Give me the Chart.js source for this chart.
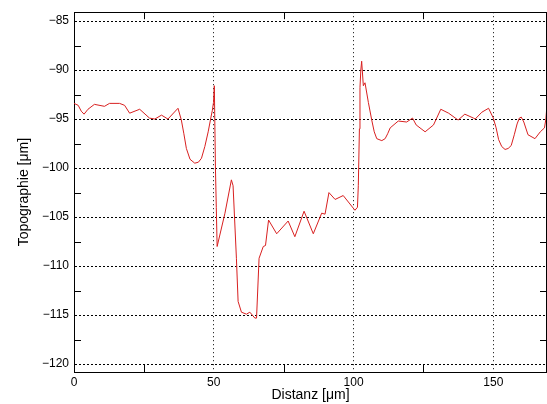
<!DOCTYPE html>
<html>
<head>
<meta charset="utf-8">
<script src="https://cdn.jsdelivr.net/npm/chart.js@4/dist/chart.umd.min.js"></script>
<style>
  html, body { margin: 0; padding: 0; background: #ffffff; }
  canvas { display: block; }
</style>
</head>
<body>
<canvas id="c" width="547" height="404"></canvas>
<script>
// Distance along the profile [µm]
const distanz = [0, 1.5, 2.6, 3.6, 5, 7.3, 10.9, 12.7, 16.3, 18.1, 19.9, 23.5, 27, 28.9, 31.3, 33.6, 37.2, 38.4, 39.3, 40.2,
  41.5, 43.2, 44.5, 45.6, 46.8, 48, 49, 49.5, 49.9, 50.2, 50.6, 50.9, 51.2, 54, 56.3, 56.9, 58.1, 58.7, 59.9, 61.7,
  62.9, 64.7, 65.3, 66.2, 67.7, 68.5, 69.6, 72.5, 76.6, 79, 82.3, 85.6, 88.6, 89.8, 91.2, 93.4, 96.3, 100.5, 101.4, 101.7,
  102.1, 102.3, 102.6, 102.9, 103.5, 104.1, 105.3, 106.5, 107.4, 108.3, 110.1, 111.3, 112.2, 113.1, 116, 119, 121.1, 122.4, 125.6, 128.6,
  131.2, 134, 137.4, 139.8, 142.9, 143.5, 145.9, 148.3, 150, 151, 151.9, 153, 154.2, 155.3, 156.4, 157.5, 158.5, 159.3, 160, 160.9,
  162.4, 164.9, 166.8, 168.3, 168.8, 169.2];
// Topography [µm]
const topographie = [-93.4, -93.6, -94.2, -94.5, -94.0, -93.5, -93.7, -93.4, -93.4, -93.6, -94.4, -94.0, -94.9, -95.0, -94.6, -95.0, -93.9, -95.1, -96.5, -98.0,
  -99.1, -99.5, -99.4, -99.0, -97.8, -96.3, -94.8, -94.1, -93.3, -91.6, -100, -104, -108, -104.6, -101.2, -101.8, -109.2, -113.6, -114.7, -114.9,
  -114.7, -115.3, -115.3, -109.2, -108.0, -107.9, -105.3, -106.7, -105.4, -107.0, -104.4, -106.7, -104.6, -104.7, -102.5, -103.2, -102.8, -104.3, -104.0, -101.8,
  -96.0, -91.8, -90.0, -89.1, -91.6, -91.3, -93.3, -95.1, -96.3, -97.0, -97.2, -97.0, -96.5, -95.9, -95.2, -95.3, -94.9, -95.6, -96.3, -95.6,
  -94.0, -94.4, -95.1, -94.5, -94.9, -95.0, -94.3, -93.9, -94.9, -95.9, -97.1, -97.8, -98.1, -98.0, -97.7, -96.6, -95.5, -94.9, -94.8, -95.3,
  -96.6, -97.0, -96.3, -95.9, -95.0, -93.5];

const xTitle = 'Distanz [\u03bcm]';
const yTitle = 'Topographie [\u03bcm]';
const xRange = [0, 169.2];
const yRange = [-120.8, -84.1];
const xStep = 50, yStep = 5;

const points = distanz.map((x, i) => ({ x: x, y: topographie[i] }));
const fontFam = '"Liberation Sans", Arial, Helvetica, sans-serif';
const minus = v => String(v).replace('-', '\u2212');

const frameTicks = {
  id: 'frameTicks',
  afterDraw(chart) {
    const ctx = chart.ctx, a = chart.chartArea;
    const xs = chart.scales.x, ys = chart.scales.y;
    ctx.save();
    ctx.strokeStyle = '#000';
    ctx.lineWidth = 1;
    ctx.setLineDash([]);
    ctx.beginPath();
    ctx.moveTo(a.left, Math.round(a.top) + 0.5);
    ctx.lineTo(a.right, Math.round(a.top) + 0.5);
    ctx.moveTo(Math.round(a.right) - 0.5, a.top);
    ctx.lineTo(Math.round(a.right) - 0.5, a.bottom);
    const L = 7;
    xs.ticks.forEach(t => {
      const v = t.value + xStep / 2;
      if (v > xs.min && v < xs.max) {
        const px = Math.round(xs.getPixelForValue(v)) + 0.5;
        ctx.moveTo(px, a.bottom); ctx.lineTo(px, a.bottom - L);
        ctx.moveTo(px, a.top); ctx.lineTo(px, a.top + L);
      }
    });
    const yv = ys.ticks.map(t => t.value);
    yv.unshift(yv[0] - yStep);
    yv.forEach(t => {
      const v = t + yStep / 2;
      if (v > ys.min && v < ys.max) {
        const py = Math.round(ys.getPixelForValue(v)) + 0.5;
        ctx.moveTo(a.left, py); ctx.lineTo(a.left + L, py);
        ctx.moveTo(a.right, py); ctx.lineTo(a.right - L, py);
      }
    });
    ctx.stroke();
    ctx.restore();
  }
};

new Chart(document.getElementById('c'), {
  type: 'line',
  data: {
    datasets: [{
      data: points,
      borderColor: '#d82020',
      borderWidth: 1,
      pointRadius: 0,
      tension: 0,
      fill: false
    }]
  },
  options: {
    responsive: false,
    animation: false,
    events: [],
    layout: { padding: { top: 7, right: 0, left: 0, bottom: 0 } },
    plugins: { legend: { display: false }, tooltip: { enabled: false } },
    scales: {
      x: {
        type: 'linear',
        min: xRange[0], max: xRange[1],
        afterFit: s => { s.height = 32; },
        ticks: {
          stepSize: xStep, includeBounds: false, maxRotation: 0, padding: 3,
          color: '#000', font: { family: fontFam, size: 12 },
          callback: v => minus(v)
        },
        grid: { color: '#000', lineWidth: 1, drawTicks: false },
        border: { display: true, color: '#000', width: 1, dash: [1, 3] },
        title: {
          display: true, text: xTitle, color: '#000',
          font: { family: fontFam, size: 14 }, padding: { top: 0, bottom: 0 }
        }
      },
      y: {
        type: 'linear',
        min: yRange[0], max: yRange[1],
        afterFit: s => { s.width = 74; },
        ticks: {
          stepSize: yStep, includeBounds: false, padding: 5,
          color: '#000', font: { family: fontFam, size: 12 },
          callback: v => minus(v)
        },
        grid: { color: '#000', lineWidth: 1, drawTicks: false },
        border: { display: true, color: '#000', width: 1, dash: [2, 2] },
        title: {
          display: true, text: yTitle, color: '#000',
          font: { family: fontFam, size: 14 }, padding: { top: 16, bottom: 0 }
        }
      }
    }
  },
  plugins: [frameTicks]
});
</script>
</body>
</html>
